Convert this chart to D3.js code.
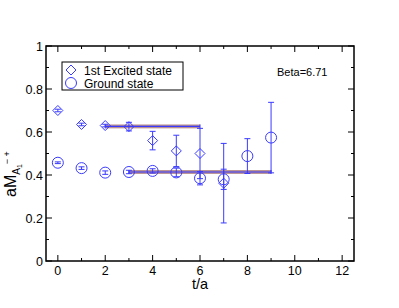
<!DOCTYPE html>
<html lang="en">
<head>
<meta charset="utf-8">
<title>aM vs t/a</title>
<script src="https://d3js.org/d3.v7.min.js"></script>
<style>
  body { margin: 0; background: #fff; }
  text { font-family: "Liberation Sans", Arial, Helvetica, sans-serif; }
</style>
</head>
<body>
<svg width="399" height="308"></svg>
<script>
// data
const excitedT   = [0, 1, 2, 3, 4, 5, 6, 7];
const excitedM   = [0.700, 0.635, 0.630, 0.625, 0.560, 0.512, 0.500, 0.362];
const excitedErr = [0.006, 0.006, 0.006, 0.020, 0.043, 0.073, 0.117, 0.185];

const groundT   = [0, 1, 2, 3, 4, 5, 6, 7, 8, 9];
const groundM   = [0.457, 0.432, 0.411, 0.414, 0.419, 0.412, 0.385, 0.380, 0.488, 0.574];
const groundErr = [0.004, 0.006, 0.008, 0.008, 0.010, 0.020, 0.031, 0.047, 0.081, 0.164];

// fit plateaus: [tStart, tEnd, value, bandHalfWidth]
const excitedFit = [2, 6, 0.626, 0.009];
const groundFit  = [3, 9, 0.414, 0.009];

const xTicks = [0, 2, 4, 6, 8, 10, 12];
const yTicks = [0, 0.2, 0.4, 0.6, 0.8, 1];

const svg = d3.select("svg");
const margin = {left: 46, right: 45, top: 46, bottom: 47};
const w = 399, h = 308;
const blue = "#3a3aff";

const x = d3.scaleLinear().domain([-0.5, 12.5]).range([margin.left, w - margin.right]);
const y = d3.scaleLinear().domain([0, 1]).range([h - margin.bottom, margin.top]);

// frame
svg.append("rect")
  .attr("x", x(-0.5)).attr("y", y(1))
  .attr("width", x(12.5) - x(-0.5)).attr("height", y(0) - y(1))
  .attr("fill", "none").attr("stroke", "#000").attr("stroke-width", 1.5);

// ticks (inward, all four sides)
const g = svg.append("g").attr("stroke", "#000").attr("stroke-width", 1);
d3.range(0, 13, 1).forEach(t => {
  const len = t % 2 === 0 ? 6 : 3;
  g.append("line").attr("x1", x(t)).attr("x2", x(t)).attr("y1", y(0)).attr("y2", y(0) - len);
  g.append("line").attr("x1", x(t)).attr("x2", x(t)).attr("y1", y(1)).attr("y2", y(1) + len);
});
d3.range(0, 11, 1).forEach(i => {
  const v = i / 10, len = i % 2 === 0 ? 6 : 3;
  g.append("line").attr("y1", y(v)).attr("y2", y(v)).attr("x1", x(-0.5)).attr("x2", x(-0.5) + len);
  g.append("line").attr("y1", y(v)).attr("y2", y(v)).attr("x1", x(12.5)).attr("x2", x(12.5) - len);
});

// tick labels
svg.selectAll(".xl").data(xTicks).enter().append("text")
  .attr("x", d => x(d)).attr("y", y(0) + 13.5)
  .attr("text-anchor", "middle").attr("font-size", 12.5).text(d => d);
svg.selectAll(".yl").data(yTicks).enter().append("text")
  .attr("x", x(-0.5) - 3).attr("y", d => y(d) + 4.5)
  .attr("text-anchor", "end").attr("font-size", 12.5).text(d => d === 0 || d === 1 ? d : d.toFixed(1));

// axis titles
svg.append("text").attr("x", (x(-0.5) + x(12.5)) / 2).attr("y", y(0) + 28)
  .attr("text-anchor", "middle").attr("font-size", 14.5).text("t/a");

const yl = svg.append("text")
  .attr("transform", `translate(16,197) rotate(-90)`)
  .attr("text-anchor", "start").attr("font-size", 16);
yl.append("tspan").text("aM");
yl.append("tspan").attr("font-size", 10).attr("dy", 4).text("A");
yl.append("tspan").attr("font-size", 7).attr("dy", 2).text("1");
yl.append("tspan").attr("font-size", 9).attr("dy", -12).text("− +");

// fit bands
function fitBand(f) {
  const [t0, t1, v, hw] = f;
  svg.append("rect")
    .attr("x", x(t0)).attr("width", x(t1) - x(t0))
    .attr("y", y(v + hw)).attr("height", y(v - hw) - y(v + hw))
    .attr("fill", "#a06a6a").attr("opacity", 0.75);
  svg.append("line").attr("x1", x(t0)).attr("x2", x(t1)).attr("y1", y(v)).attr("y2", y(v))
    .attr("stroke", blue).attr("stroke-width", 1.2);
  [t0, t1].forEach(t => svg.append("line").attr("x1", x(t)).attr("x2", x(t))
    .attr("y1", y(v) - 2).attr("y2", y(v) + 2).attr("stroke", blue));
}
fitBand(excitedFit);
fitBand(groundFit);

// error bars
function errBars(ts, ms, es) {
  const eg = svg.append("g").attr("stroke", blue).attr("stroke-width", 1);
  ts.forEach((t, i) => {
    const cx = x(t), top = y(ms[i] + es[i]), bot = y(ms[i] - es[i]);
    eg.append("line").attr("x1", cx).attr("x2", cx).attr("y1", top).attr("y2", bot);
    eg.append("line").attr("x1", cx - 3).attr("x2", cx + 3).attr("y1", top).attr("y2", top);
    eg.append("line").attr("x1", cx - 3).attr("x2", cx + 3).attr("y1", bot).attr("y2", bot);
  });
}
errBars(excitedT, excitedM, excitedErr);
errBars(groundT, groundM, groundErr);

// markers
const diamond = s => `M0,${-s}L${s},0L0,${s}L${-s},0Z`;
svg.selectAll(".dia").data(excitedT).enter().append("path")
  .attr("d", diamond(5))
  .attr("transform", (d, i) => `translate(${x(d)},${y(excitedM[i])})`)
  .attr("fill", "none").attr("stroke", blue).attr("stroke-width", 1);
svg.selectAll(".circ").data(groundT).enter().append("circle")
  .attr("cx", d => x(d)).attr("cy", (d, i) => y(groundM[i])).attr("r", 5.5)
  .attr("fill", "none").attr("stroke", blue).attr("stroke-width", 1);

// legend
svg.append("rect").attr("x", 62).attr("y", 62).attr("width", 121).attr("height", 28)
  .attr("fill", "#fff").attr("stroke", "#000").attr("stroke-width", 1);
svg.append("path").attr("d", diamond(5)).attr("transform", "translate(71,70)")
  .attr("fill", "none").attr("stroke", blue);
svg.append("circle").attr("cx", 71).attr("cy", 83).attr("r", 5.5)
  .attr("fill", "none").attr("stroke", blue);
svg.append("text").attr("x", 84).attr("y", 74.5).attr("font-size", 12).text("1st Excited state");
svg.append("text").attr("x", 84).attr("y", 87.5).attr("font-size", 12).text("Ground state");

svg.append("text").attr("x", 277).attr("y", 76).attr("font-size", 11).text("Beta=6.71");
</script>
</body>
</html>
